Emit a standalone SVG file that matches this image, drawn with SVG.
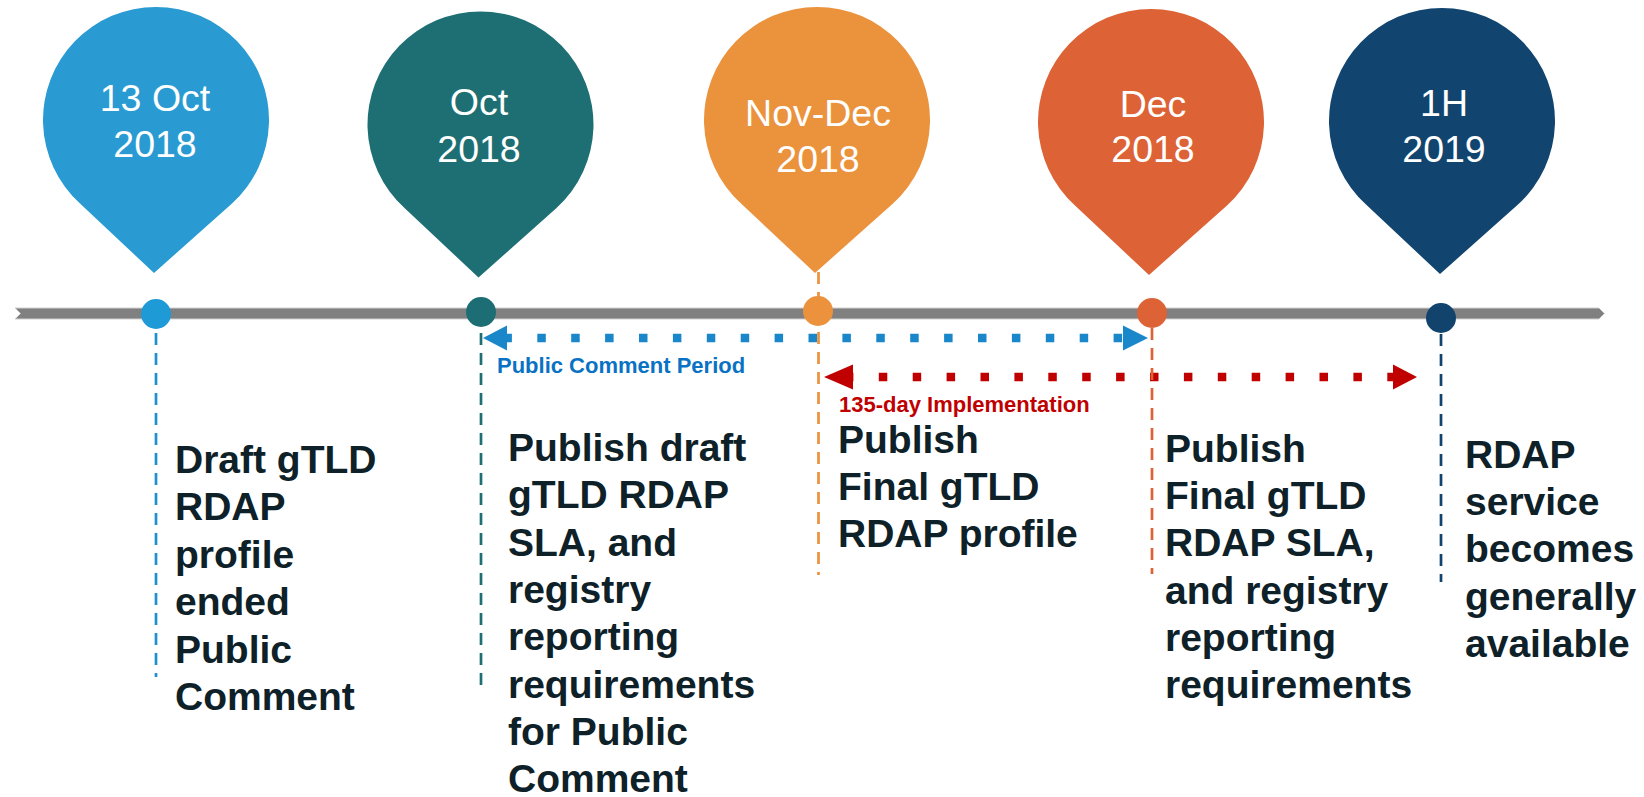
<svg xmlns="http://www.w3.org/2000/svg" xmlns:xlink="http://www.w3.org/1999/xlink" width="1644" height="797" viewBox="0 0 1644 797">
<style>
.pinlbl{font-family:"Liberation Sans",Arial,sans-serif;font-size:37.5px;fill:#ffffff;text-anchor:middle}
.desc{font-family:"Liberation Sans",Arial,sans-serif;font-size:39px;font-weight:bold;fill:#0E2128}
.span{font-family:"Liberation Sans",Arial,sans-serif;font-weight:bold}
.dash{stroke-width:2.7;stroke-dasharray:12 8;fill:none}
.dots{stroke-width:8.5;stroke-dasharray:8.5 25.4;fill:none}
</style>
<defs>
<path id="pin" d="M -2,153 L -76,83.5 A 113 113 0 1 1 76,83.5 Z"/>
</defs>
<rect width="1644" height="797" fill="#ffffff"/>
<g id="connectors">
<polygon id="timeline" points="15,308 1599,308 1604.5,313.5 1599,319 15,319 20.5,313.5" fill="#808080" stroke="#D0D0D0" stroke-width="1"/>
<g id="public-comment-period">
<line class="dots" x1="503.4" y1="338" x2="1123" y2="338" stroke="#1B87CB"/>
<polygon points="483,338 507,325.5 507,350.5" fill="#1B87CB"/>
<polygon points="1148,338 1123,325.5 1123,350.5" fill="#1B87CB"/>
<text class="span" x="497" y="373" font-size="22" fill="#0A72C4">Public Comment Period</text>
</g>
<g id="implementation-period">
<line class="dots" x1="844.9" y1="377" x2="1393" y2="377" stroke="#C00000"/>
<polygon points="824,377 853,364.5 853,389.5" fill="#C00000"/>
<polygon points="1417,377 1393,364.5 1393,389.5" fill="#C00000"/>
<text class="span" x="839" y="412" font-size="22" fill="#C00000">135-day Implementation</text>
</g>
</g>
<g id="m1">
<use xlink:href="#pin" transform="translate(156,120)" fill="#299BD2"/>
<text class="pinlbl" x="155" y="111">13 Oct</text>
<text class="pinlbl" x="155" y="157">2018</text>
<line class="dash" x1="156" y1="333" x2="156" y2="677" stroke="#1E90D0"/>
<circle cx="156" cy="314" r="15" fill="#1E9AD6"/>
<text class="desc" x="175" y="473"><tspan x="175">Draft gTLD</tspan><tspan x="175" dy="47.4">RDAP</tspan><tspan x="175" dy="47.4">profile</tspan><tspan x="175" dy="47.4">ended</tspan><tspan x="175" dy="47.4">Public</tspan><tspan x="175" dy="47.4">Comment</tspan></text>
</g>
<g id="m2">
<use xlink:href="#pin" transform="translate(480.5,124.5)" fill="#1D6F74"/>
<text class="pinlbl" x="479" y="115">Oct</text>
<text class="pinlbl" x="479" y="162">2018</text>
<line class="dash" x1="481" y1="333" x2="481" y2="692" stroke="#1D6F74"/>
<circle cx="481" cy="312" r="15" fill="#1C6E74"/>
<text class="desc" x="508" y="461"><tspan x="508">Publish draft</tspan><tspan x="508" dy="47.3">gTLD RDAP</tspan><tspan x="508" dy="47.3">SLA, and</tspan><tspan x="508" dy="47.3">registry</tspan><tspan x="508" dy="47.3">reporting</tspan><tspan x="508" dy="47.3">requirements</tspan><tspan x="508" dy="47.3">for Public</tspan><tspan x="508" dy="47.3">Comment</tspan></text>
</g>
<g id="m3">
<use xlink:href="#pin" transform="translate(817,120)" fill="#EB923D"/>
<text class="pinlbl" x="818" y="126">Nov-Dec</text>
<text class="pinlbl" x="818" y="172">2018</text>
<line class="dash" x1="818.5" y1="272" x2="818.5" y2="575" stroke="#EB923D"/>
<circle cx="818" cy="311" r="15" fill="#EC923C"/>
<text class="desc" x="838" y="453"><tspan x="838">Publish</tspan><tspan x="838" dy="47">Final gTLD</tspan><tspan x="838" dy="47">RDAP profile</tspan></text>
</g>
<g id="m4">
<use xlink:href="#pin" transform="translate(1151,122)" fill="#DD6236"/>
<text class="pinlbl" x="1153" y="117">Dec</text>
<text class="pinlbl" x="1153" y="162">2018</text>
<line class="dash" x1="1152" y1="328" x2="1152" y2="574" stroke="#DD6236"/>
<circle cx="1152" cy="313" r="15" fill="#DD6236"/>
<text class="desc" x="1165" y="462"><tspan x="1165">Publish</tspan><tspan x="1165" dy="47.2">Final gTLD</tspan><tspan x="1165" dy="47.2">RDAP SLA,</tspan><tspan x="1165" dy="47.2">and registry</tspan><tspan x="1165" dy="47.2">reporting</tspan><tspan x="1165" dy="47.2">requirements</tspan></text>
</g>
<g id="m5">
<use xlink:href="#pin" transform="translate(1442,121)" fill="#11446E"/>
<text class="pinlbl" x="1444" y="116">1H</text>
<text class="pinlbl" x="1444" y="162">2019</text>
<line class="dash" x1="1441" y1="334" x2="1441" y2="582" stroke="#11436D"/>
<circle cx="1441" cy="318" r="15" fill="#11436D"/>
<text class="desc" x="1465" y="468"><tspan x="1465">RDAP</tspan><tspan x="1465" dy="47.2">service</tspan><tspan x="1465" dy="47.2">becomes</tspan><tspan x="1465" dy="47.2">generally</tspan><tspan x="1465" dy="47.2">available</tspan></text>
</g>
</svg>
